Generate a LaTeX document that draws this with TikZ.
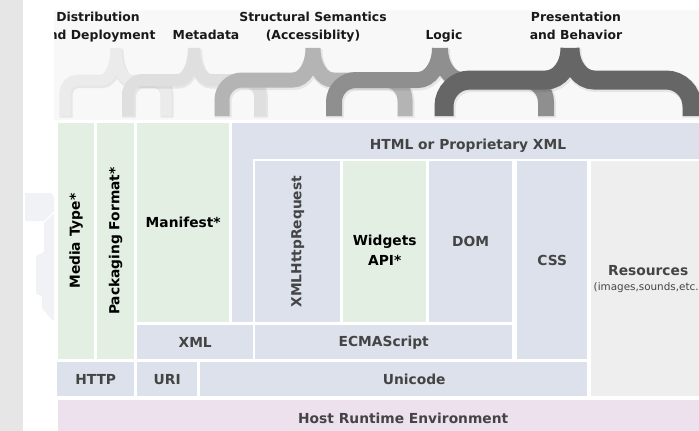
\documentclass[tikz,border=0pt]{standalone}
\usepackage{fontspec}
\setmainfont{DejaVu Sans}

\definecolor{grn}{HTML}{E3EFE3}
\definecolor{blu}{HTML}{DCE1EC}
\definecolor{res}{HTML}{EEEEEE}
\definecolor{pnk}{HTML}{EDE1EE}
\definecolor{labgray}{HTML}{444444}
\definecolor{margin}{HTML}{E6E6E6}
\definecolor{faint}{HTML}{F1F2F5}
\definecolor{topbg}{HTML}{F8F8F8}

\tikzset{
  blk/.style={rectangle, inner sep=0pt, anchor=north west, text=labgray,
    font=\bfseries\fontsize{13.8}{20}\selectfont},
  star/.style={text=black},
  toplab/.style={anchor=north, inner sep=0pt, align=center, text=black!90,
    font=\bfseries\fontsize{12.4}{18}\selectfont},
}

\begin{document}
\begin{tikzpicture}[x=1pt, y=-1pt]
    \useasboundingbox (0,0) rectangle (699,431);
    \clip (0,0) rectangle (699,431);
    % page margin on the left
    \fill[margin] (0,0) rectangle (23,431);
    \fill[faint] (25,193) -- (51,193) -- (54,197) -- (54,211) -- (44,221) -- (25,221) -- cycle;
    \fill[faint] (44,223) -- (54,213) -- (54,320) -- (52,320) -- (42,308) -- (42,296) -- (36,294) -- (36,256) -- (44,252) -- cycle;

    \begin{scope}
    \clip (54,0) rectangle (699,431);
    \fill[topbg] (54,10) rectangle (699,120);

    % concerns
    \node[toplab] (dist) at (98,12) {Distribution\\and Deployment};
    \node[toplab] (meta) at (206,30) {Metadata};
    \node[toplab] (sema) at (313,12) {Structural Semantics\\(Accessiblity)};
    \node[toplab] (logic) at (444,30) {Logic};
    \node[toplab] (pres) at (576,12) {Presentation\\and Behavior};

    % braces, back to front
    \foreach \tp/\xl/\xr/\lw/\r/\d/\c in {116/65/166/11pt/13/14/8, 194/128/260/12pt/15/16/12.5,
        313/222/405/15pt/20/20/29.5, 440/334/546/16pt/22/22/44, 570/444/692/19pt/26/24/60}
      \draw[line width=\lw, black!\c,
          preaction={draw, line width=\lw+2pt, black, opacity=0.07, transform canvas={shift={(1pt,-1.5pt)}}}]
        (\xl,116) -- (\xl,{80+\r}) .. controls (\xl,{80+0.45*\r}) and ({\xl+0.45*\r},80) .. ({\xl+\r},80)
          -- ({\tp-\d},80) .. controls ({\tp-0.45*\d},80) and (\tp,66) .. (\tp,48)
        (\xr,116) -- (\xr,{80+\r}) .. controls (\xr,{80+0.45*\r}) and ({\xr-0.45*\r},80) .. ({\xr-\r},80)
          -- ({\tp+\d},80) .. controls ({\tp+0.45*\d},80) and (\tp,66) .. (\tp,48);

    % layers
    \node[blk, star, fill=grn, minimum width=36pt, minimum height=236pt] (mtype) at (58,123) {\rotatebox{90}{Media Type*}};
    \node[blk, star, fill=grn, minimum width=37pt, minimum height=236pt] (pack) at (97,123) {\rotatebox{90}{Packaging Format*}};
    \node[blk, star, fill=grn, minimum width=92pt, minimum height=199pt] (manif) at (137,123) {Manifest*};
    \node[blk, fill=blu, minimum width=473pt, minimum height=199pt, text height=0pt, text depth=0pt] (html) at (232,123) {};
    \node[anchor=base, inner sep=0pt, text=labgray, font=\bfseries\fontsize{13.8}{20}\selectfont] (htmltxt) at (468,149) {HTML or Proprietary XML};
    \fill[white] (253,159) rectangle (705,323);

    \node[blk, fill=blu, minimum width=85pt, minimum height=161pt] (xhr) at (255,161) {\rotatebox{90}{XMLHttpRequest}};
    \node[blk, star, fill=grn, minimum width=83pt, minimum height=161pt,
        label={[star, align=center, font=\bfseries\fontsize{13.8}{20}\selectfont, yshift=-9pt]center:Widgets\\API*}] (widg) at (343,161) {};
    \node[blk, fill=blu, minimum width=83pt, minimum height=161pt] (dom) at (429,161) {DOM};
    \node[blk, fill=blu, minimum width=70pt, minimum height=198pt] (css) at (517,161) {CSS};
    \node[blk, fill=res, minimum width=114pt, minimum height=235pt, align=center] (resrc) at (591,161)
        {Resources\\[-5pt]{\mdseries\fontsize{10.4}{12}\selectfont (images,sounds,etc.)}};

    \node[blk, fill=blu, minimum width=116pt, minimum height=34pt] (xml) at (137,325) {XML};
    \node[blk, fill=blu, minimum width=257pt, minimum height=34pt] (ecma) at (255,325) {ECMAScript};
    \node[blk, fill=blu, minimum width=77pt, minimum height=34pt] (http) at (57,362) {HTTP};
    \node[blk, fill=blu, minimum width=60pt, minimum height=34pt] (uri) at (137,362) {URI};
    \node[blk, fill=blu, minimum width=387pt, minimum height=34pt] (uni) at (200,362) {\hspace*{41pt}Unicode};
    \node[blk, fill=pnk, minimum width=690pt, minimum height=36pt] (host) at (58,400) {Host Runtime Environment};
    \end{scope}
\end{tikzpicture}
\end{document}
